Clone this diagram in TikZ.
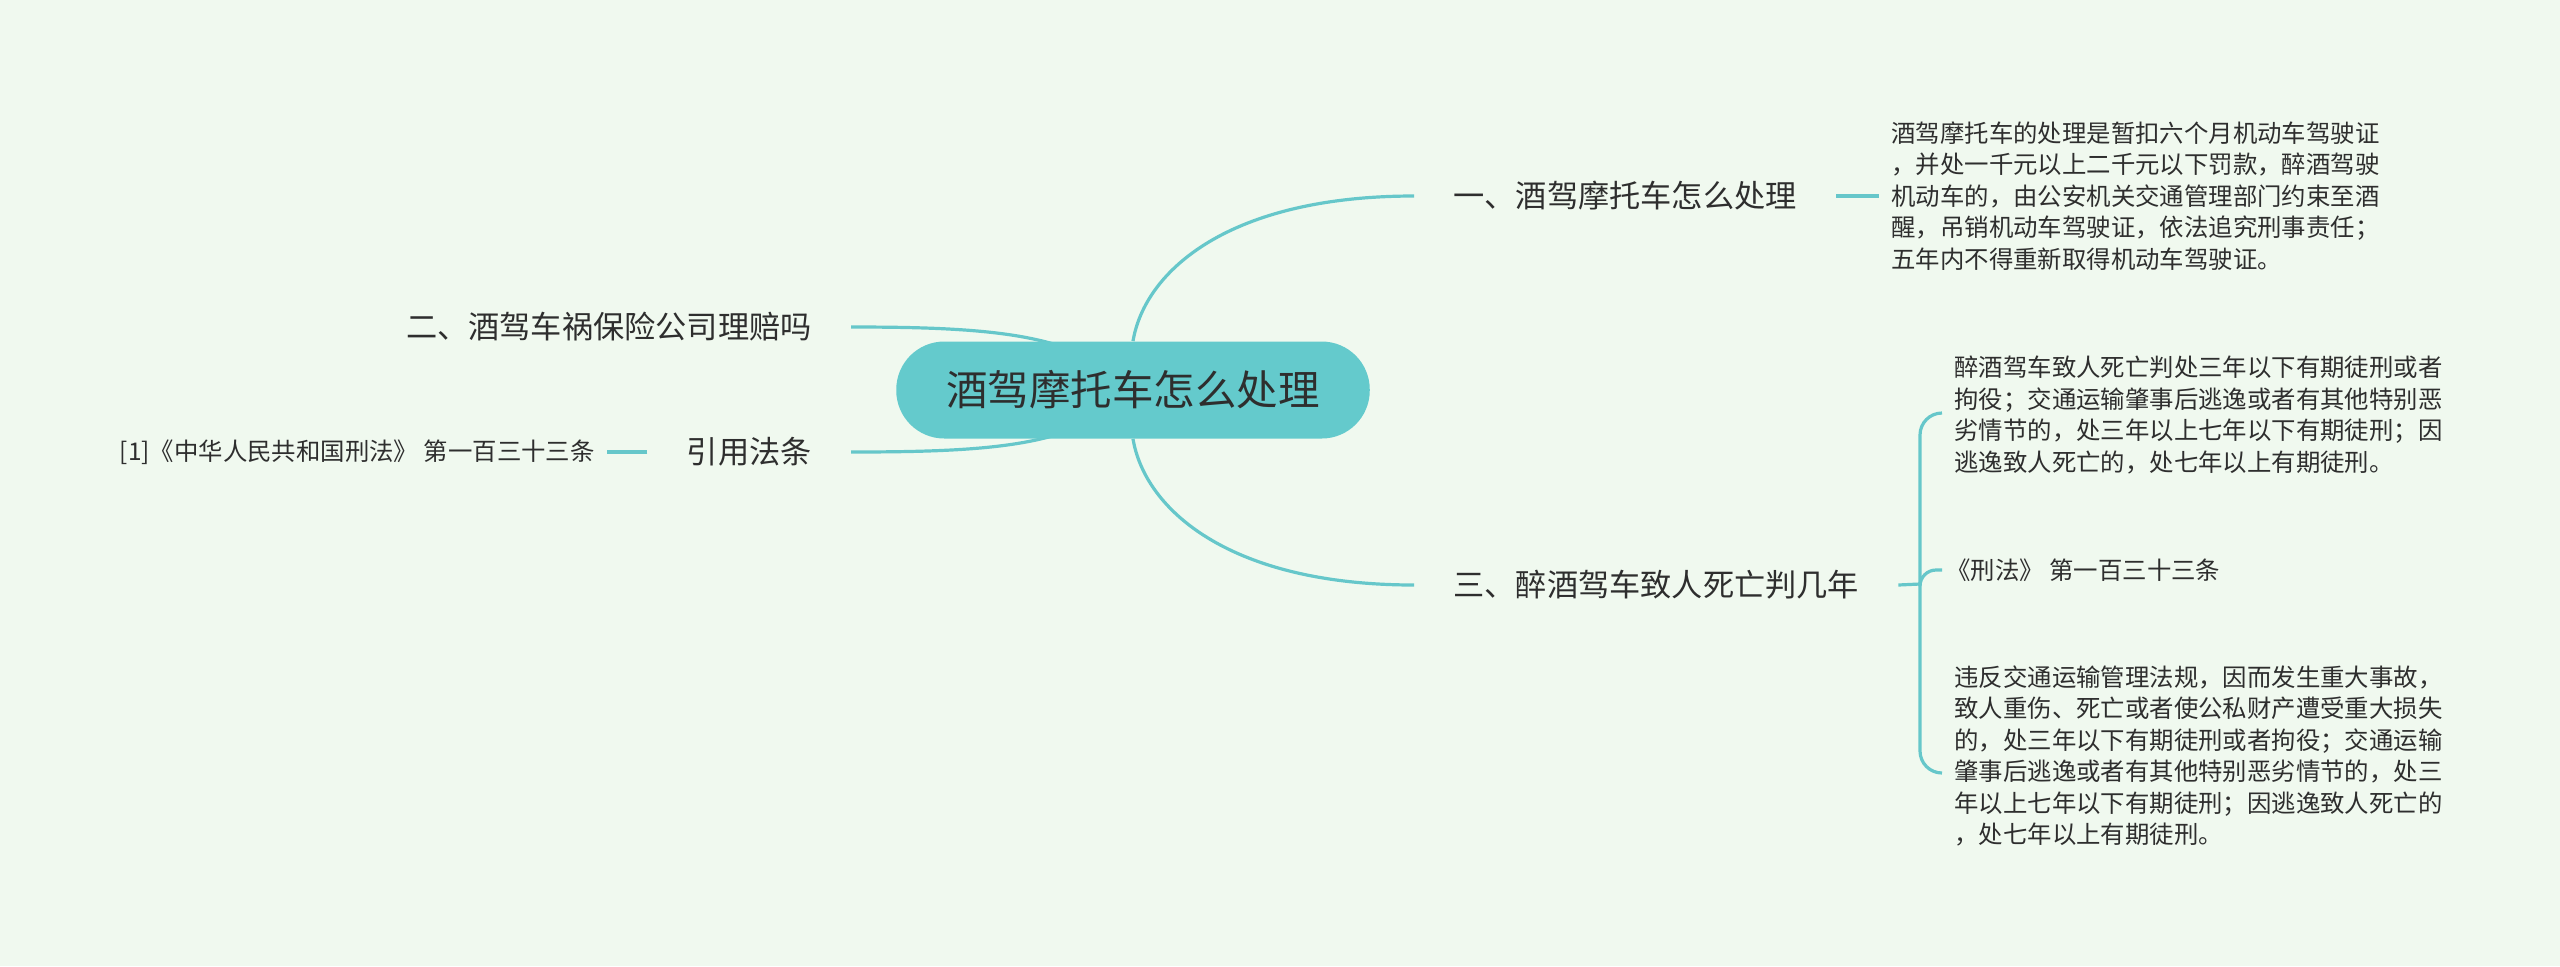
\documentclass[tikz,border=0pt]{standalone}
\usepackage{fontspec}
\setmainfont{Noto Sans CJK SC}
\definecolor{bgc}{HTML}{F0F9EF}
\definecolor{lnc}{HTML}{66C7CA}
\definecolor{rootc}{HTML}{64CACC}
\definecolor{txt}{HTML}{2E2E2E}
\pgfdeclarelayer{bglayer}
\pgfdeclarelayer{connlayer}
\pgfsetlayers{bglayer,connlayer,main}
\begin{document}
\begin{tikzpicture}[x=0.5pt,y=-0.5pt,
  rootnode/.style={fill=rootc, rounded corners=24pt, minimum height=48.5pt, inner xsep=25pt, inner ysep=0pt, font=\fontsize{20.75}{24}\selectfont, text=txt},
  branch/.style={inner xsep=19.5pt, inner ysep=2pt, font=\fontsize{15.6}{18}\selectfont, text=txt},
  leaf/.style={inner xsep=6pt, inner ysep=2pt, font=\fontsize{12.2}{15.75}\selectfont, align=left, text=txt},
  conn/.style={draw=lnc, line width=1.6pt}]
\begin{pgfonlayer}{bglayer}
\fill[bgc] (0,0) rectangle (2560,966);
\end{pgfonlayer}
\useasboundingbox (0,0) rectangle (2560,966);

\node[rootnode] (root) at (1133,390) {酒驾摩托车怎么处理};

\node[branch, anchor=west] (b1) at (1414,196) {一、酒驾摩托车怎么处理};
\node[branch, anchor=east] (b2) at (851,327) {二、酒驾车祸保险公司理赔吗};
\node[branch, anchor=west] (b3) at (1414,585) {三、醉酒驾车致人死亡判几年};
\node[branch, anchor=east] (b4) at (851,452) {引用法条};

\node[leaf, anchor=west] (l1) at (1879,196) {酒驾摩托车的处理是暂扣六个月机动车驾驶证\\，并处一千元以上二千元以下罚款，醉酒驾驶\\机动车的，由公安机关交通管理部门约束至酒\\醒，吊销机动车驾驶证，依法追究刑事责任；\\五年内不得重新取得机动车驾驶证。};

\node[leaf, anchor=west] (l3a) at (1942,415) {醉酒驾车致人死亡判处三年以下有期徒刑或者\\拘役；交通运输肇事后逃逸或者有其他特别恶\\劣情节的，处三年以上七年以下有期徒刑；因\\逃逸致人死亡的，处七年以上有期徒刑。};
\node[leaf, anchor=west, inner xsep=2pt] (l3b) at (1942,570) {《刑法》 第一百三十三条};
\node[leaf, anchor=west] (l3c) at (1942,756) {违反交通运输管理法规，因而发生重大事故，\\致人重伤、死亡或者使公私财产遭受重大损失\\的，处三年以下有期徒刑或者拘役；交通运输\\肇事后逃逸或者有其他特别恶劣情节的，处三\\年以上七年以下有期徒刑；因逃逸致人死亡的\\，处七年以上有期徒刑。};

\node[leaf, anchor=east] (l4) at (607,452) {[1]《中华人民共和国刑法》 第一百三十三条};

\coordinate (j) at (1920,584);

\begin{pgfonlayer}{connlayer}
\draw[conn] (root.north) .. controls (1145,270) and (1230,196) .. (b1.west);
\draw[conn] (root.south) .. controls (1145,510) and (1230,585) .. (b3.west);
\draw[conn] (b2.east) .. controls (1000,327) and (1080,335) .. (root.center);
\draw[conn] (b4.east) .. controls (1000,452) and (1080,445) .. (root.center);
\draw[conn] (b1.east) -- (l1.west);
\draw[conn] (b4.west) -- (l4.east);
\draw[conn] (b3.east) -- (j);
\draw[conn, rounded corners=11pt] (j) |- ([yshift=1pt]l3a.west);
\draw[conn, rounded corners=8pt] (j) |- (l3b.west);
\draw[conn, rounded corners=11pt] (j) |- ([yshift=-8.5pt]l3c.west);
\end{pgfonlayer}
\end{tikzpicture}
\end{document}
